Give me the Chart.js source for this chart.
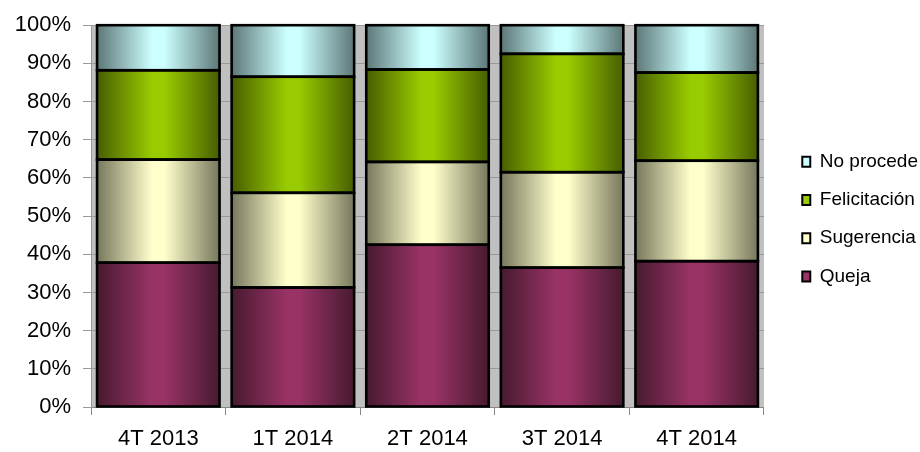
<!DOCTYPE html>
<html>
<head>
<meta charset="utf-8">
<script src="https://cdn.jsdelivr.net/npm/chart.js@4.4.1/dist/chart.umd.min.js"></script>
<style>
  html, body { margin: 0; padding: 0; background: #fff; }
  #wrap { width: 920px; height: 452px; position: relative; }
</style>
</head>
<body>
<div id="wrap"><canvas id="barChart"></canvas></div>
<script>
document.addEventListener('DOMContentLoaded', function () {

// categories and series (percent of each quarter)
let quarters = ['4T 2013', '1T 2014', '2T 2014', '3T 2014', '4T 2014'];
let queja        = [37.8, 31.3, 42.5, 36.5, 38.2];
let sugerencia   = [27.0, 24.8, 21.7, 25.0, 26.3];
let felicitacion = [23.4, 30.4, 24.2, 31.0, 23.1];
let noProcede    = [11.8, 13.5, 11.6, 7.5, 12.4];
let yTicks = [0, 10, 20, 30, 40, 50, 60, 70, 80, 90, 100];

const BAR_PCT = 0.91;
const FONT = '"Liberation Sans", Arial, sans-serif';

// light centre colour and dark edge colour for each series
function barGradient(light, dark) {
    return function (context) {
        let chart = context.chart;
        let xScale = chart.scales.x;
        if (!chart.chartArea || !xScale || context.dataIndex === undefined) return light;
        let cx = xScale.getPixelForValue(context.dataIndex);
        let w = xScale.width / quarters.length * BAR_PCT;
        let g = chart.ctx.createLinearGradient(cx - w / 2, 0, cx + w / 2, 0);
        g.addColorStop(0, dark);
        g.addColorStop(0.45, light);
        g.addColorStop(0.55, light);
        g.addColorStop(1, dark);
        return g;
    };
}

let series = [
    { label: 'Queja', data: queja, light: '#993366', dark: '#471a2f' },
    { label: 'Sugerencia', data: sugerencia, light: '#ffffcc', dark: '#77775d' },
    { label: 'Felicitación', data: felicitacion, light: '#99cc00', dark: '#475e00' },
    { label: 'No procede', data: noProcede, light: '#ccffff', dark: '#5d7777' }
];

let datasets = series.map(s => ({
    label: s.label,
    data: s.data,
    backgroundColor: barGradient(s.light, s.dark),
    legendColor: s.light,
    borderWidth: 0,
    categoryPercentage: BAR_PCT,
    barPercentage: 1
}));

// grey plot background like the spreadsheet chart
let plotBg = {
    id: 'plotBg',
    beforeDraw(chart) {
        let a = chart.chartArea;
        let c = chart.ctx;
        c.save();
        c.fillStyle = '#c0c0c0';
        c.fillRect(a.left, a.top, a.right - a.left, a.bottom - a.top);
        c.restore();
    }
};

// black outline round every bar segment, centred on its edges
let barOutline = {
    id: 'barOutline',
    afterDatasetsDraw(chart) {
        let c = chart.ctx;
        c.save();
        c.strokeStyle = '#000';
        c.lineWidth = 2.6;
        chart.data.datasets.forEach((ds, i) => {
            chart.getDatasetMeta(i).data.forEach(bar => {
                let p = bar.getProps(['x', 'y', 'base', 'width'], true);
                c.strokeRect(p.x - p.width / 2, p.y, p.width, p.base - p.y);
            });
        });
        c.restore();
    }
};

// push the legend a bit right/down of where the layout puts it
let legendShift = {
    id: 'legendShift',
    afterLayout(chart) {
        let lg = chart.legend;
        if (!lg) return;
        lg.left += 19; lg.right += 19;
        lg.top += 3; lg.bottom += 3;
    }
};

let ctx = document.getElementById('barChart').getContext('2d');

let barChart = new Chart(ctx, {
    type: 'bar',
    data: { labels: quarters, datasets: datasets },
    plugins: [plotBg, barOutline, legendShift],
    options: {
        responsive: true,
        maintainAspectRatio: false,
        animation: false,
        layout: { padding: { top: 11, right: 11, bottom: 0, left: 0 } },
        plugins: {
            tooltip: { enabled: false },
            legend: {
                position: 'right',
                fullSize: false,
                reverse: true,
                labels: {
                    boxWidth: 8,
                    boxHeight: 10,
                    padding: 19.3,
                    color: '#000',
                    font: { family: FONT, size: 19 },
                    generateLabels(chart) {
                        let items = Chart.defaults.plugins.legend.labels.generateLabels(chart);
                        items.forEach(it => {
                            it.fillStyle = chart.data.datasets[it.datasetIndex].legendColor;
                            it.strokeStyle = '#000';
                            it.lineWidth = 2;
                        });
                        return items;
                    }
                }
            }
        },
        scales: {
            x: {
                stacked: true,
                grid: {
                    offset: true,
                    drawOnChartArea: false,
                    drawTicks: true,
                    tickLength: 8,
                    color: '#888'
                },
                border: { display: true, color: '#888', width: 1 },
                ticks: {
                    color: '#000',
                    padding: 11,
                    font: { family: FONT, size: 22 }
                },
                afterFit(scale) { scale.height = 45; }
            },
            y: {
                stacked: true,
                min: 0,
                max: 100,
                afterBuildTicks(scale) {
                    scale.ticks = yTicks.map(v => ({ value: v }));
                },
                grid: {
                    color: '#999',
                    tickLength: 8,
                    drawTicks: true
                },
                border: { display: true, color: '#999', width: 1 },
                ticks: {
                    color: '#000',
                    padding: 12,
                    font: { family: FONT, size: 22 },
                    callback: v => v + '%'
                },
                afterFit(scale) { scale.width = 91; }
            }
        }
    }
});
});
</script>
</body>
</html>
